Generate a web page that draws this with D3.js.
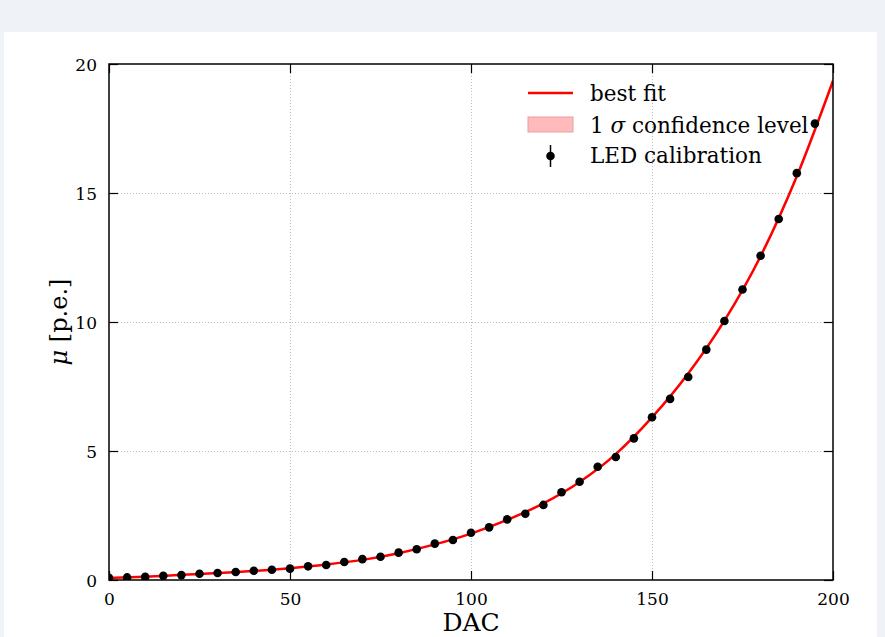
<!DOCTYPE html>
<html>
<head>
<meta charset="utf-8">
<script src="https://cdn.jsdelivr.net/npm/d3@7/dist/d3.min.js"></script>
<style>
  html, body { margin: 0; padding: 0; background: #eff3f8; }
  svg { display: block; }
  text { font-family: "DejaVu Serif", "Liberation Serif", serif; fill: #000; }
</style>
</head>
<body>
<svg id="chart" width="885" height="637"></svg>
<script>
// LED calibration: mean photo-electron count per DAC setting
const dac = [0, 5, 10, 15, 20, 25, 30, 35, 40, 45, 50, 55, 60, 65, 70, 75, 80, 85, 90, 95,
             100, 105, 110, 115, 120, 125, 130, 135, 140, 145, 150, 155, 160, 165, 170, 175, 180, 185, 190, 195];
const mu = [0.09, 0.10, 0.12, 0.16, 0.19, 0.24, 0.27, 0.31, 0.36, 0.40, 0.44, 0.53, 0.58, 0.70, 0.81, 0.90, 1.06, 1.19, 1.41, 1.55,
            1.83, 2.04, 2.35, 2.57, 2.91, 3.40, 3.81, 4.39, 4.77, 5.49, 6.31, 7.02, 7.87, 8.93, 10.04, 11.26, 12.57, 13.99, 15.77, 17.69];
const muErr = [0.01, 0.01, 0.01, 0.01, 0.01, 0.01, 0.01, 0.01, 0.01, 0.01, 0.01, 0.01, 0.01, 0.02, 0.02, 0.02, 0.02, 0.02, 0.02, 0.03,
               0.03, 0.03, 0.03, 0.04, 0.04, 0.04, 0.05, 0.05, 0.05, 0.06, 0.06, 0.07, 0.07, 0.08, 0.08, 0.09, 0.10, 0.10, 0.11, 0.12];

// best-fit curve and its 1 sigma band
const fitDac = [0, 10, 20, 30, 40, 50, 60, 70, 80, 90, 100, 110, 120, 130, 140, 150, 160, 170, 180, 190, 200];
const fitMu = [0.08, 0.13, 0.20, 0.27, 0.35, 0.46, 0.60, 0.78, 1.04, 1.38, 1.80, 2.33, 2.97, 3.80, 4.88, 6.30, 8.00, 10.05, 12.55, 15.65, 19.35];
const fitSigma = [0.01, 0.01, 0.01, 0.01, 0.01, 0.01, 0.01, 0.01, 0.02, 0.02, 0.02, 0.03, 0.03, 0.04, 0.05, 0.06, 0.07, 0.08, 0.10, 0.12, 0.14];

const xTicks = [0, 50, 100, 150, 200];
const yTicks = [0, 5, 10, 15, 20];

const svg = d3.select("#chart");

// white card
svg.append("rect").attr("x", 4).attr("y", 32).attr("width", 873).attr("height", 620).attr("fill", "#ffffff");

const plot = { left: 109, right: 833, top: 64, bottom: 580 };
const x = d3.scaleLinear().domain([0, 200]).range([plot.left, plot.right]);
const y = d3.scaleLinear().domain([0, 20]).range([plot.bottom, plot.top]);

const clipId = "plot-clip";
svg.append("clipPath").attr("id", clipId).append("rect")
  .attr("x", plot.left).attr("y", plot.top)
  .attr("width", plot.right - plot.left).attr("height", plot.bottom - plot.top);

// dotted grid on inner ticks
const grid = svg.append("g").attr("stroke", "#bdbdbd").attr("stroke-width", 1).attr("stroke-dasharray", "1,2");
grid.selectAll("line.gx").data(xTicks.slice(1, -1)).join("line")
  .attr("x1", d => Math.round(x(d)) + 0.5).attr("x2", d => Math.round(x(d)) + 0.5)
  .attr("y1", plot.top).attr("y2", plot.bottom);
grid.selectAll("line.gy").data(yTicks.slice(1, -1)).join("line")
  .attr("y1", d => Math.round(y(d)) + 0.5).attr("y2", d => Math.round(y(d)) + 0.5)
  .attr("x1", plot.left).attr("x2", plot.right);

const content = svg.append("g").attr("clip-path", `url(#${clipId})`);

const fitData = fitDac.map((d, i) => ({ x: d, y: fitMu[i], s: fitSigma[i] }));

// 1 sigma band
content.append("path")
  .datum(fitData)
  .attr("fill", "#ffbbbb")
  .attr("opacity", 0.9)
  .attr("d", d3.area().curve(d3.curveMonotoneX)
    .x(d => x(d.x)).y0(d => y(d.y - d.s)).y1(d => y(d.y + d.s)));

// best fit line
content.append("path")
  .datum(fitData)
  .attr("fill", "none")
  .attr("stroke", "#ff0000")
  .attr("stroke-width", 2.5)
  .attr("d", d3.line().curve(d3.curveMonotoneX).x(d => x(d.x)).y(d => y(d.y)));

// calibration points with error bars
const pts = dac.map((d, i) => ({ x: d, y: mu[i], e: muErr[i] }));
content.append("g").attr("stroke", "#000").attr("stroke-width", 1.5)
  .selectAll("line").data(pts).join("line")
  .attr("x1", d => x(d.x)).attr("x2", d => x(d.x))
  .attr("y1", d => y(d.y - d.e)).attr("y2", d => y(d.y + d.e));
content.append("g").selectAll("circle").data(pts).join("circle")
  .attr("cx", d => x(d.x)).attr("cy", d => y(d.y)).attr("r", 4.3).attr("fill", "#000");

// axes: ticks inward on all four sides
const tickLen = 9;
const axBottom = svg.append("g").attr("transform", `translate(0,${plot.bottom})`)
  .call(d3.axisBottom(x).tickValues(xTicks).tickSizeInner(-tickLen).tickSizeOuter(0).tickPadding(13).tickFormat(d3.format("d")));
const axTop = svg.append("g").attr("transform", `translate(0,${plot.top})`)
  .call(d3.axisTop(x).tickValues(xTicks).tickSizeInner(-tickLen).tickSizeOuter(0).tickFormat(""));
const axLeft = svg.append("g").attr("transform", `translate(${plot.left},0)`)
  .call(d3.axisLeft(y).tickValues(yTicks).tickSizeInner(-tickLen).tickSizeOuter(0).tickPadding(12).tickFormat(d3.format("d")));
const axRight = svg.append("g").attr("transform", `translate(${plot.right},0)`)
  .call(d3.axisRight(y).tickValues(yTicks).tickSizeInner(-tickLen).tickSizeOuter(0).tickFormat(""));

[axBottom, axTop, axLeft, axRight].forEach(a => {
  a.select(".domain").remove();
  a.selectAll(".tick line").attr("stroke", "#000").attr("stroke-width", 1.2);
  a.selectAll("text").attr("font-family", "DejaVu Serif").attr("font-size", 17).attr("fill", "#000");
});
axLeft.selectAll(".tick text").attr("dy", "0.36em");

// frame
svg.append("rect")
  .attr("x", plot.left).attr("y", plot.top)
  .attr("width", plot.right - plot.left).attr("height", plot.bottom - plot.top)
  .attr("fill", "none").attr("stroke", "#000").attr("stroke-width", 1.5);

// axis labels
svg.append("text")
  .attr("x", (plot.left + plot.right) / 2).attr("y", 631)
  .attr("text-anchor", "middle").attr("font-size", 25)
  .text("DAC");

const yl = svg.append("text")
  .attr("transform", `translate(67,${(plot.top + plot.bottom) / 2}) rotate(-90)`)
  .attr("text-anchor", "middle").attr("font-size", 24);
yl.append("tspan").attr("font-style", "italic").text("μ");
yl.append("tspan").text(" [p.e.]");

// legend
const lg = svg.append("g").attr("font-size", 21.5);
const lx = 528, tx = 590;
lg.append("line").attr("x1", lx).attr("x2", lx + 45).attr("y1", 93).attr("y2", 93)
  .attr("stroke", "#ff0000").attr("stroke-width", 2.5);
lg.append("text").attr("x", tx).attr("y", 101).text("best fit");

lg.append("rect").attr("x", lx).attr("y", 117).attr("width", 45).attr("height", 15)
  .attr("fill", "#ffbbbb").attr("stroke", "#e8a0a0").attr("stroke-width", 1);
const t2 = lg.append("text").attr("x", tx).attr("y", 133);
t2.append("tspan").text("1 ");
t2.append("tspan").attr("font-style", "italic").text("σ");
t2.append("tspan").text(" confidence level");

lg.append("line").attr("x1", lx + 22.5).attr("x2", lx + 22.5).attr("y1", 145).attr("y2", 167)
  .attr("stroke", "#000").attr("stroke-width", 1.5);
lg.append("circle").attr("cx", lx + 22.5).attr("cy", 156).attr("r", 4.3).attr("fill", "#000");
lg.append("text").attr("x", tx).attr("y", 163).text("LED calibration");
</script>
</body>
</html>
